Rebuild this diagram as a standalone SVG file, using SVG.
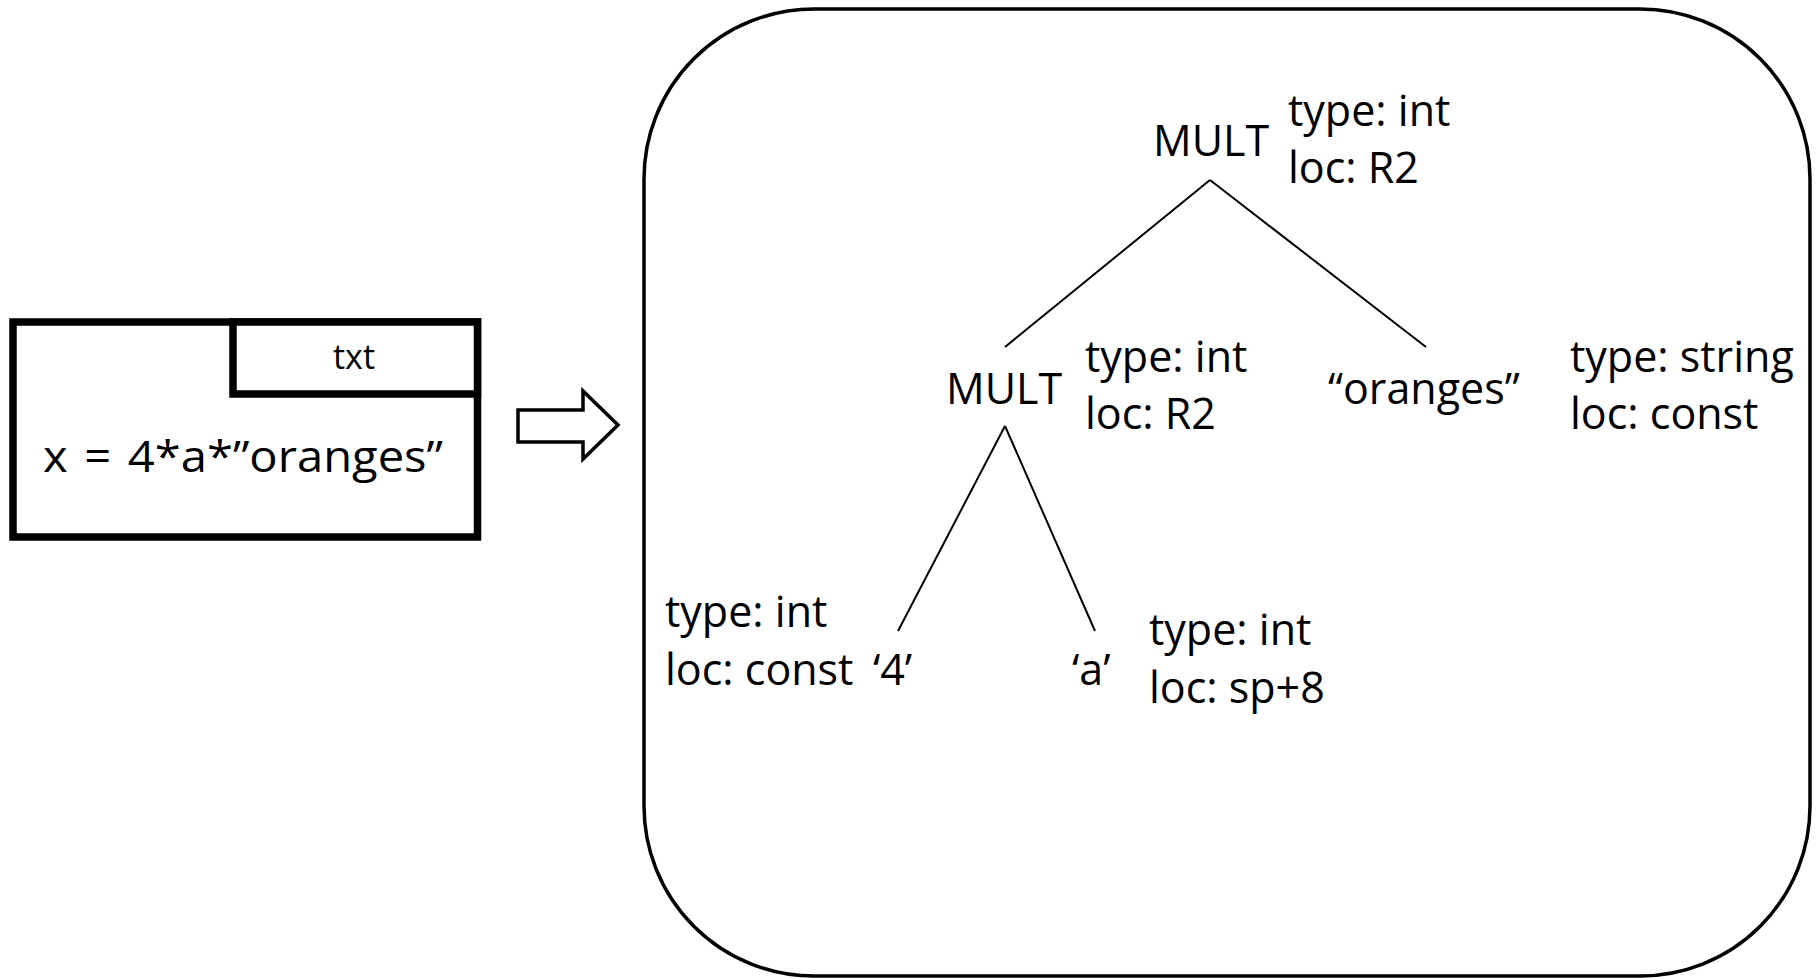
<svg xmlns="http://www.w3.org/2000/svg" width="1816" height="978" viewBox="0 0 1816 978">
  <style>
    .t { font-family: "Open Sans", "Liberation Sans", sans-serif; font-size: 43px; fill: #000; }
    .small { font-size: 34px; }
    .frame { fill: #fff; stroke: #000; stroke-width: 7.5; }
    .edge { stroke: #000; stroke-width: 2; fill: none; }
  </style>
  <rect width="1816" height="978" fill="#fff"/>

  <!-- source code box -->
  <g id="source">
    <rect class="frame" x="13" y="322" width="464.5" height="215"/>
    <rect class="frame" x="233" y="322" width="244.5" height="72"/>
    <text class="t small" x="354" y="369" text-anchor="middle">txt</text>
    <text class="t" x="43" y="472" font-size="44" word-spacing="4" textLength="400" lengthAdjust="spacingAndGlyphs">x = 4*a*”oranges”</text>
  </g>

  <!-- block arrow -->
  <g id="arrow">
    <polygon points="518,410 583,410 583,391 618,425 583,459 583,442 518,442" fill="#fff" stroke="#000" stroke-width="3.5" stroke-linejoin="miter"/>
  </g>

  <!-- annotated tree panel -->
  <g id="panel">
    <rect x="644" y="9" width="1166" height="967" rx="170" ry="170" fill="none" stroke="#000" stroke-width="3.5"/>
  </g>

  <g id="connectors">
    <line class="edge" x1="1210" y1="180" x2="1005" y2="347"/>
    <line class="edge" x1="1210" y1="180" x2="1426" y2="347"/>
    <line class="edge" x1="1005" y1="426" x2="898" y2="631"/>
    <line class="edge" x1="1005" y1="426" x2="1095" y2="631"/>
  </g>

  <g id="mult-root">
    <text class="t" x="1153" y="156">MULT</text>
    <text class="t" x="1288" y="126">type: int</text>
    <text class="t" x="1288" y="183">loc: R2</text>
  </g>

  <g id="mult-inner">
    <text class="t" x="946" y="404">MULT</text>
    <text class="t" x="1085" y="372">type: int</text>
    <text class="t" x="1085" y="429">loc: R2</text>
  </g>

  <g id="leaf-oranges">
    <text class="t" x="1328" y="404">“oranges”</text>
    <text class="t" x="1570" y="372">type: string</text>
    <text class="t" x="1570" y="429">loc: const</text>
  </g>

  <g id="leaf-4">
    <text class="t" x="665" y="627">type: int</text>
    <text class="t" x="665" y="685">loc: const</text>
    <text class="t" x="873" y="685">‘4’</text>
  </g>

  <g id="leaf-a">
    <text class="t" x="1072" y="685">‘a’</text>
    <text class="t" x="1149" y="645">type: int</text>
    <text class="t" x="1149" y="703">loc: sp+8</text>
  </g>
</svg>
